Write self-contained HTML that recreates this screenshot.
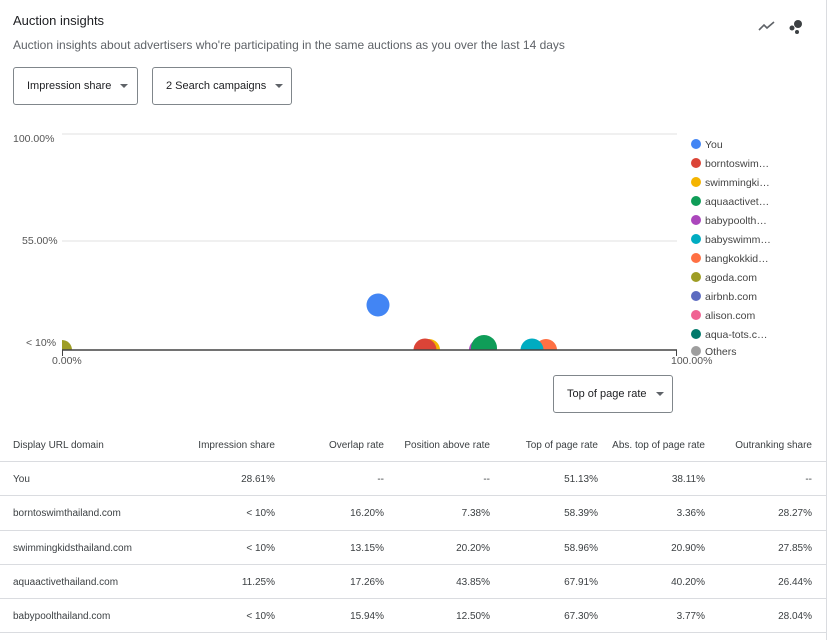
<!DOCTYPE html>
<html><head><meta charset="utf-8"><style>
body{margin:0;width:829px;height:640px;background:#fff;font-family:"Liberation Sans",sans-serif;color:#3c4043;overflow:hidden;position:relative}
.a{position:absolute;white-space:nowrap}
.btn{position:absolute;border:1px solid #80868b;border-radius:3px;height:38px;box-sizing:border-box;font-size:11px;color:#202124;line-height:36px;padding-left:13px}
.tri{display:inline-block;width:0;height:0;border-left:4px solid transparent;border-right:4px solid transparent;border-top:4px solid #5f6368;vertical-align:middle;margin-left:9px}
.lg{position:absolute;left:691px;font-size:10.5px;color:#444}
.lg i{display:inline-block;width:10px;height:10px;border-radius:50%;margin-right:4px;vertical-align:-1px}
.t{position:absolute;font-size:10px;color:#3c4043}
.r{text-align:right}
.sep{position:absolute;left:0;width:826px;height:1px;background:#dadce0}
</style></head><body>
<div class="a" style="left:826px;top:0;width:1px;height:640px;background:#dadce0"></div>
<div class="a" style="left:13px;top:13px;font-size:13px;color:#202124">Auction insights</div>
<div class="a" style="left:13px;top:38px;font-size:12px;color:#5f6368">Auction insights about advertisers who're participating in the same auctions as you over the last 14 days</div>
<svg class="a" style="left:756px;top:18px" width="50" height="18"><polyline points="3,12 8,7 11,10 18,4" fill="none" stroke="#5f6368" stroke-width="1.6"/><circle cx="36" cy="10" r="2.5" fill="#3c4043"/><circle cx="42" cy="6" r="4" fill="#3c4043"/><circle cx="41" cy="14" r="2" fill="#3c4043"/></svg>
<div class="btn" style="left:13px;top:67px;width:125px">Impression share<span class="tri"></span></div>
<div class="btn" style="left:152px;top:67px;width:140px">2 Search campaigns<span class="tri"></span></div>
<svg class="a" style="left:0;top:120px" width="690" height="260">
<line x1="62" y1="14" x2="677" y2="14" stroke="#e0e0e0"/>
<line x1="62" y1="121" x2="677" y2="121" stroke="#e0e0e0"/>
<defs><clipPath id="c"><rect x="62" y="0" width="620" height="230"/></clipPath></defs>
<g clip-path="url(#c)">
<circle cx="378" cy="185" r="11.5" fill="#4285f4"/>
<circle cx="62" cy="230" r="10" fill="#9e9d24"/>
<circle cx="429" cy="230" r="11" fill="#f4b400"/>
<circle cx="425" cy="230" r="11.5" fill="#db4437"/>
<circle cx="480" cy="230" r="11" fill="#ab47bc"/>
<circle cx="484" cy="228" r="13" fill="#0f9d58"/>
<circle cx="546" cy="230" r="11" fill="#ff7043"/>
<circle cx="532" cy="230" r="11.5" fill="#00acc1"/>
</g>
<line x1="62" y1="230" x2="677" y2="230" stroke="#444" stroke-width="1.5"/>
<line x1="62.5" y1="230" x2="62.5" y2="236" stroke="#444"/>
<line x1="676.5" y1="230" x2="676.5" y2="236" stroke="#444"/>
</svg>
<div class="a" style="left:13px;top:133px;font-size:10.5px;color:#555">100.00%</div>
<div class="a" style="left:22px;top:235px;font-size:10.5px;color:#555">55.00%</div>
<div class="a" style="left:26px;top:337px;font-size:10.5px;color:#555">&lt; 10%</div>
<div class="a" style="left:52px;top:355px;font-size:10.5px;color:#555">0.00%</div>
<div class="a" style="left:671px;top:355px;font-size:10.5px;color:#555">100.00%</div>
<div class="lg" style="top:139px"><i style="background:#4285f4"></i>You</div>
<div class="lg" style="top:158px"><i style="background:#db4437"></i>borntoswim…</div>
<div class="lg" style="top:177px"><i style="background:#f4b400"></i>swimmingki…</div>
<div class="lg" style="top:196px"><i style="background:#0f9d58"></i>aquaactivet…</div>
<div class="lg" style="top:215px"><i style="background:#ab47bc"></i>babypoolth…</div>
<div class="lg" style="top:234px"><i style="background:#00acc1"></i>babyswimm…</div>
<div class="lg" style="top:253px"><i style="background:#ff7043"></i>bangkokkid…</div>
<div class="lg" style="top:272px"><i style="background:#9e9d24"></i>agoda.com</div>
<div class="lg" style="top:291px"><i style="background:#5c6bc0"></i>airbnb.com</div>
<div class="lg" style="top:310px"><i style="background:#f06292"></i>alison.com</div>
<div class="lg" style="top:329px"><i style="background:#00796b"></i>aqua-tots.c…</div>
<div class="lg" style="top:346px"><i style="background:#9e9e9e"></i>Others</div>
<div class="btn" style="left:553px;top:375px;width:120px">Top of page rate<span class="tri"></span></div>
<div class="sep" style="top:461px"></div><div class="sep" style="top:495px"></div><div class="sep" style="top:530px"></div><div class="sep" style="top:564px"></div><div class="sep" style="top:598px"></div><div class="sep" style="top:632px"></div>
<div id="tb"></div>
<script>
var rows=[["Display URL domain","Impression share","Overlap rate","Position above rate","Top of page rate","Abs. top of page rate","Outranking share"],
["You","28.61%","--","--","51.13%","38.11%","--"],
["borntoswimthailand.com","< 10%","16.20%","7.38%","58.39%","3.36%","28.27%"],
["swimmingkidsthailand.com","< 10%","13.15%","20.20%","58.96%","20.90%","27.85%"],
["aquaactivethailand.com","11.25%","17.26%","43.85%","67.91%","40.20%","26.44%"],
["babypoolthailand.com","< 10%","15.94%","12.50%","67.30%","3.77%","28.04%"]];
var rx=[0,275,384,490,598,705,812],ys=[440,474,508,543,577,611],h="";
rows.forEach(function(r,i){r.forEach(function(c,j){c=c.replace("<","&lt;");
if(j==0)h+='<div class="t" style="left:13px;top:'+ys[i]+'px">'+c+'</div>';
else h+='<div class="t r" style="left:'+(rx[j]-110)+'px;width:110px;top:'+ys[i]+'px">'+c+'</div>';});});
document.getElementById("tb").innerHTML=h;
</script>
</body></html>
